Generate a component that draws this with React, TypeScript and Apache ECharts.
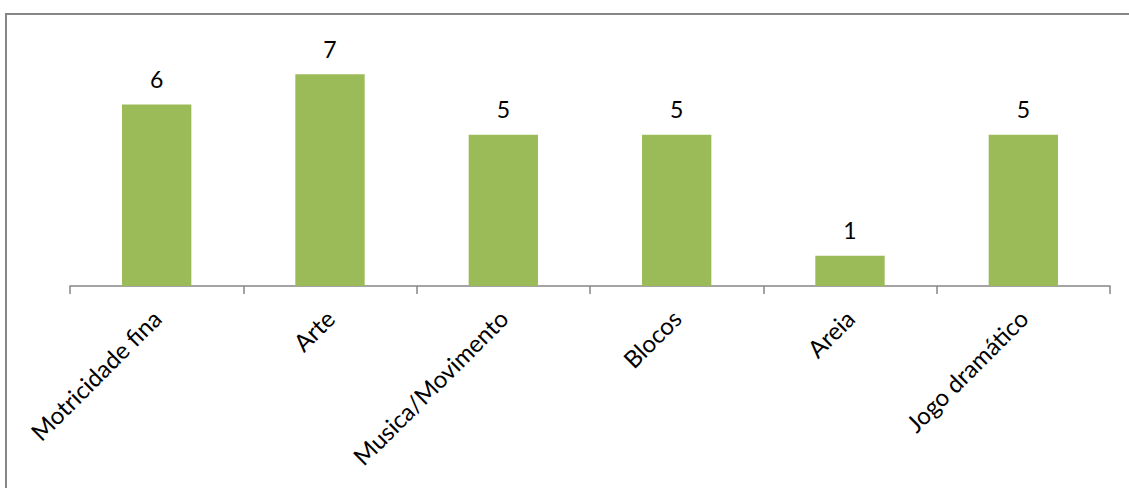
import React, { useEffect, useRef } from "react";
import * as echarts from "echarts";

const categories = ["Motricidade fina", "Arte", "Musica/Movimento", "Blocos", "Areia", "Jogo dramático"];
const values = [6, 7, 5, 5, 1, 5];

export default function App() {
  const ref = useRef<HTMLDivElement>(null);
  useEffect(() => {
    const chart = echarts.init(ref.current!, undefined, { renderer: "svg" });
    chart.setOption({
      animation: false,
      backgroundColor: "transparent",
      textStyle: { fontFamily: "Lato" },
      grid: { left: 62, right: 11, top: 36, bottom: 194, containLabel: false },
      xAxis: {
        type: "category",
        data: categories,
        axisLine: { show: true, lineStyle: { color: "#868686", width: 1.5 } },
        axisTick: { show: true, length: 8, lineStyle: { color: "#868686", width: 1.5 } },
        axisLabel: { rotate: 45, fontSize: 24, color: "#000", margin: 28, interval: 0, fontFamily: "Lato" },
      },
      yAxis: { type: "value", min: 0, max: 8, show: false, splitLine: { show: false } },
      series: [
        {
          type: "bar",
          data: values,
          barWidth: "40%",
          itemStyle: { color: "#9BBB59" },
          label: { show: true, position: "top", distance: 14, fontSize: 23, color: "#000", fontFamily: "Lato" },
        },
      ],
    });
    return () => chart.dispose();
  }, []);
  return (
    <div style={{ position: "relative", width: 1113, height: 472 }}>
      <div ref={ref} style={{ position: "absolute", left: 0, top: 0, width: 1113, height: 472 }} />
      <div
        style={{
          position: "fixed",
          left: 5,
          top: 13,
          width: 1140,
          height: 490,
          borderLeft: "2px solid #868686",
          borderTop: "2px solid #868686",
          boxSizing: "border-box",
          pointerEvents: "none",
        }}
      />
    </div>
  );
}
